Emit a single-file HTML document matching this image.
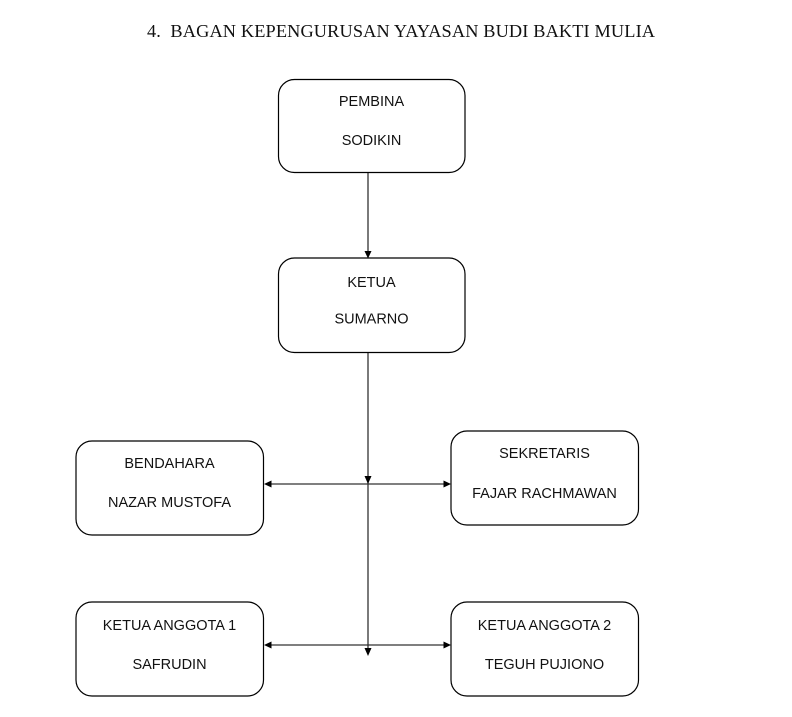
<!DOCTYPE html>
<html>
<head>
<meta charset="utf-8">
<style>
  html, body { margin: 0; padding: 0; background: #fff; }
  body { width: 792px; height: 717px; overflow: hidden; }
  svg { display: block; }
  .t { font-family: "Liberation Sans", "DejaVu Sans", sans-serif; font-size: 14.5px; fill: #111; text-anchor: middle; }
  .title { font-family: "Liberation Serif", "DejaVu Serif", serif; font-size: 18.3px; fill: #111; }
  .box { fill: #fff; stroke: #000; stroke-width: 1.2; }
  .ln { stroke: #333; stroke-width: 1.3; fill: none; }
  .ah { fill: #000; }
</style>
</head>
<body>
<svg width="792" height="717" viewBox="0 0 792 717" xmlns="http://www.w3.org/2000/svg">
  <text class="title" x="147" y="37" textLength="508" lengthAdjust="spacing" xml:space="preserve">4.  BAGAN KEPENGURUSAN YAYASAN BUDI BAKTI MULIA</text>

  <!-- connectors -->
  <line class="ln" x1="368" y1="167" x2="368" y2="252"/>
  <polygon class="ah" points="364.5,251 371.5,251 368,258.5"/>

  <line class="ln" x1="368" y1="346" x2="368" y2="650"/>
  <polygon class="ah" points="364.5,476 371.5,476 368,484"/>
  <polygon class="ah" points="364.5,648 371.5,648 368,656"/>

  <line class="ln" x1="270" y1="484" x2="444" y2="484"/>
  <polygon class="ah" points="264,484 271.5,480.5 271.5,487.5"/>
  <polygon class="ah" points="451,484 443.5,480.5 443.5,487.5"/>

  <line class="ln" x1="270" y1="645" x2="444" y2="645"/>
  <polygon class="ah" points="264,645 271.5,641.5 271.5,648.5"/>
  <polygon class="ah" points="451,645 443.5,641.5 443.5,648.5"/>

  <!-- boxes -->
  <rect class="box" x="278.5" y="79.5" width="186.5" height="93" rx="16" ry="16"/>
  <text class="t" x="371.5" y="106">PEMBINA</text>
  <text class="t" x="371.5" y="145">SODIKIN</text>

  <rect class="box" x="278.5" y="258" width="186.5" height="94.5" rx="16" ry="16"/>
  <text class="t" x="371.5" y="287">KETUA</text>
  <text class="t" x="371.5" y="323.5">SUMARNO</text>

  <rect class="box" x="76" y="441" width="187.5" height="94" rx="16" ry="16"/>
  <text class="t" x="169.5" y="468">BENDAHARA</text>
  <text class="t" x="169.5" y="507">NAZAR MUSTOFA</text>

  <rect class="box" x="451" y="431" width="187.5" height="94" rx="16" ry="16"/>
  <text class="t" x="544.5" y="458">SEKRETARIS</text>
  <text class="t" x="544.5" y="498">FAJAR RACHMAWAN</text>

  <rect class="box" x="76" y="602" width="187.5" height="94" rx="16" ry="16"/>
  <text class="t" x="169.5" y="630">KETUA ANGGOTA 1</text>
  <text class="t" x="169.5" y="669">SAFRUDIN</text>

  <rect class="box" x="451" y="602" width="187.5" height="94" rx="16" ry="16"/>
  <text class="t" x="544.5" y="630">KETUA ANGGOTA 2</text>
  <text class="t" x="544.5" y="669">TEGUH PUJIONO</text>
</svg>
</body>
</html>
